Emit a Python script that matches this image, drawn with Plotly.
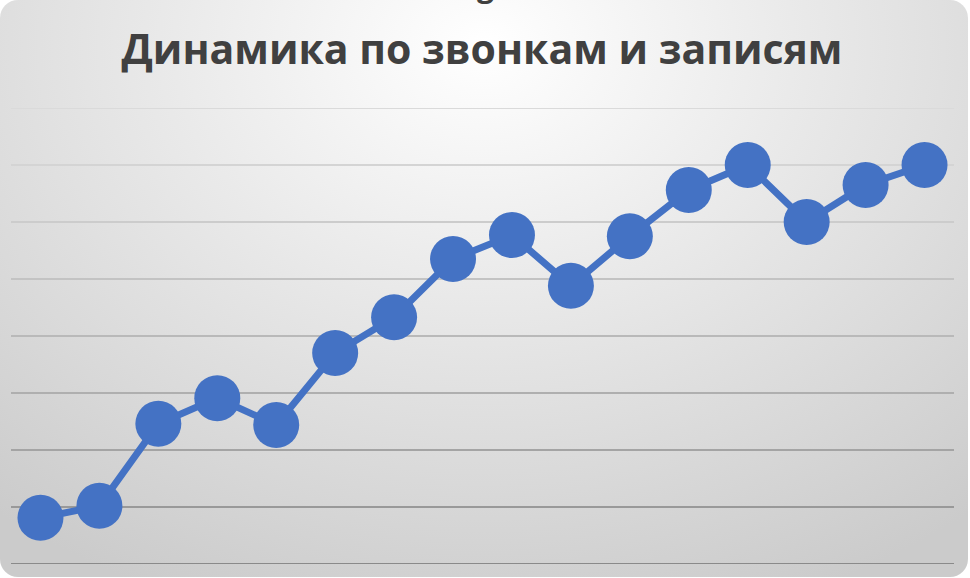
import plotly.graph_objects as go
import urllib.parse

# ---- data ----
periods = list(range(1, 17))
values = [0.81, 1.02, 2.46, 2.91, 2.44, 3.70, 4.33, 5.35, 5.77, 4.88, 5.75, 6.56, 7.00, 6.00, 6.65, 7.00]
grid_ticks = [0, 1, 2, 3, 4, 5, 6, 7, 8]
grid_colors = ["#8a8a8a", "#999999", "#a4a4a4", "#afafaf", "#b9b9b9", "#c3c3c3", "#cccccc", "#d4d4d4", "#dadada"]
title_text = "Динамика по звонкам и записям"

W, H = 970, 578
ML, MR, MT, MB = 11, 16, 108, 14
PW, PH = W - ML - MR, H - MT - MB

svg = (
    f'<svg xmlns="http://www.w3.org/2000/svg" width="{W}" height="{H}" viewBox="0 0 {W} {H}">'
    '<defs><radialGradient id="g" cx="50%" cy="8%" r="80%" fx="50%" fy="8%" '
    'gradientTransform="translate(0.5,0.08) scale(1,1.3) translate(-0.5,-0.08)">'
    '<stop offset="0" stop-color="#ffffff"/>'
    '<stop offset="0.4" stop-color="#eaeaea"/>'
    '<stop offset="1" stop-color="#cbcbcb"/>'
    '</radialGradient></defs>'
    f'<rect x="0" y="0" width="968" height="577" rx="18" ry="18" fill="url(#g)"/>'
    '</svg>'
)
src = "data:image/svg+xml;charset=utf-8," + urllib.parse.quote(svg)

fig = go.Figure()
fig.add_trace(go.Scatter(
    x=periods, y=values, mode="lines+markers",
    line=dict(color="#4472C4", width=7),
    marker=dict(color="#4472C4", size=46, line=dict(width=0)),
    cliponaxis=False, hoverinfo="skip", showlegend=False,
))

shapes = []
for t, c in zip(grid_ticks, grid_colors):
    shapes.append(dict(type="line", xref="paper", yref="y", x0=0, x1=1, y0=t, y1=t,
                       line=dict(color=c, width=2), layer="below"))

fig.update_layout(
    width=W, height=H,
    margin=dict(l=ML, r=MR, t=MT, b=MB, pad=0),
    paper_bgcolor="#ffffff",
    plot_bgcolor="rgba(0,0,0,0)",
    images=[dict(source=src, xref="paper", yref="paper",
                 x=-ML / PW, y=1 + MT / PH, sizex=W / PW, sizey=H / PH,
                 xanchor="left", yanchor="top", sizing="stretch", layer="below")],
    shapes=shapes,
    title=dict(text=f"<b>{title_text}</b>", x=482 / W, xanchor="center",
               y=1 - 50 / H, yanchor="middle",
               font=dict(family="Open Sans", size=41, color="#404040")),
    annotations=[dict(text="<b>g</b>", xref="paper", yref="paper",
                      x=(485 - ML) / PW, y=1 + (MT + 14) / PH, yanchor="middle",
                      showarrow=False, font=dict(family="Open Sans", size=30, color="#404040"))],
    xaxis=dict(range=[0.5, 16.5], visible=False, fixedrange=True),
    yaxis=dict(range=[0, 8], visible=False, fixedrange=True),
)

fig.write_html("out.html", config={"displayModeBar": False},
               post_script="document.body.style.margin='0';document.body.style.padding='0';")
